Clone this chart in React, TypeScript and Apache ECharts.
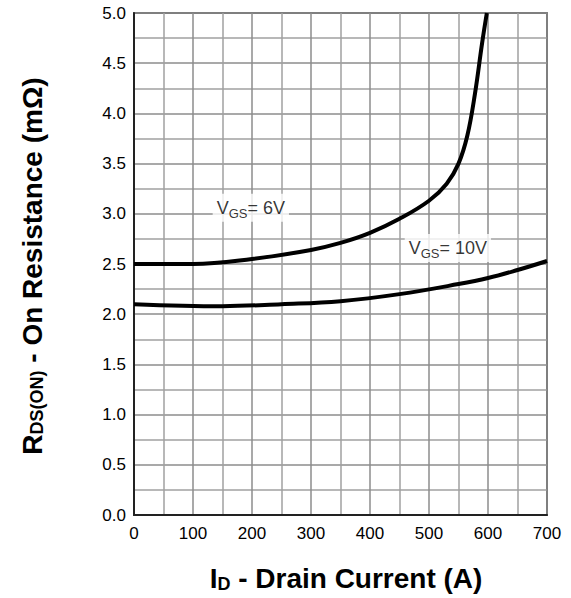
import React, { useEffect, useRef } from "react";
import * as echarts from "echarts";

const xTicks = [0, 100, 200, 300, 400, 500, 600, 700];
const yTicks = [0, 0.5, 1.0, 1.5, 2.0, 2.5, 3.0, 3.5, 4.0, 4.5, 5.0];

const currentVgs6 = [0, 100, 200, 300, 350, 400, 450, 500, 530, 550, 565, 578, 590, 598];
const rdsVgs6 = [2.5, 2.5, 2.55, 2.64, 2.71, 2.81, 2.95, 3.13, 3.3, 3.5, 3.78, 4.2, 4.7, 5.0];

const currentVgs10 = [0, 150, 250, 350, 450, 550, 600, 650, 700];
const rdsVgs10 = [2.1, 2.08, 2.1, 2.13, 2.2, 2.3, 2.36, 2.44, 2.53];

const labelVgs6 = { x: 198, y: 3.06, text: "{v|V}{s|GS}{v|= 6V}" };
const labelVgs10 = { x: 532, y: 2.66, text: "{v|V}{s|GS}{v|= 10V}" };

const FONT = "Liberation Sans, Arial, Helvetica, sans-serif";

export default function App() {
  const ref = useRef<HTMLDivElement>(null);
  useEffect(() => {
    if (!ref.current) return;
    const chart = echarts.init(ref.current, null, { renderer: "svg" });
    const pair = (xs: number[], ys: number[]) => xs.map((x, i) => [x, ys[i]]);
    const labelRich = {
      v: { fontSize: 18, color: "#000", fontFamily: FONT },
      s: { fontSize: 13, color: "#000", fontFamily: FONT, verticalAlign: "bottom", padding: [10, 0, 0, 0] },
    };
    const labelSeries = (l: { x: number; y: number; text: string }) => ({
      type: "scatter",
      data: [[l.x, l.y]],
      symbolSize: 0,
      silent: true,
      z: 5,
      label: {
        show: true,
        position: "inside",
        formatter: l.text,
        backgroundColor: "#fff",
        padding: [3, 4, 2, 4],
        rich: labelRich,
      },
    });
    chart.setOption({
      animation: false,
      backgroundColor: "#fff",
      grid: {
        left: 134,
        right: 24,
        top: 13,
        bottom: 83,
        show: true,
        borderColor: "#222",
        borderWidth: 1.5,
      },
      xAxis: {
        type: "value",
        min: 0,
        max: 700,
        interval: 100,
        axisLine: { show: true, lineStyle: { color: "#222", width: 2 } },
        axisTick: { show: false },
        axisLabel: {
          fontSize: 17,
          color: "#000",
          fontFamily: FONT,
          margin: 10,
          formatter: (v: number) => (xTicks.includes(v) ? String(v) : ""),
        },
        splitLine: { show: true, lineStyle: { color: "#8c8c8c", width: 1.5 } },
        minorTick: { show: false, splitNumber: 2 },
        minorSplitLine: { show: true, lineStyle: { color: "#a0a0a0", width: 1.5 } },
      },
      yAxis: {
        type: "value",
        min: 0,
        max: 5,
        interval: 0.5,
        axisLine: { show: true, lineStyle: { color: "#222", width: 2 } },
        axisTick: { show: false },
        axisLabel: {
          fontSize: 17,
          color: "#000",
          fontFamily: FONT,
          margin: 8,
          formatter: (v: number) => {
            const t = yTicks.find((y) => Math.abs(y - v) < 1e-6);
            return t === undefined ? "" : t.toFixed(1);
          },
        },
        splitLine: { show: true, lineStyle: { color: "#8c8c8c", width: 1.5 } },
        minorTick: { show: false, splitNumber: 2 },
        minorSplitLine: { show: true, lineStyle: { color: "#a0a0a0", width: 1.5 } },
      },
      graphic: [
        {
          type: "text",
          x: 346,
          y: 578,
          style: {
            text: "{b|I}{sb|D}{b| - Drain Current (A)}",
            align: "center",
            verticalAlign: "middle",
            rich: {
              b: { fontSize: 28, fontWeight: "bold", fontFamily: FONT, color: "#000" },
              sb: { fontSize: 18, fontWeight: "bold", fontFamily: FONT, color: "#000", verticalAlign: "bottom", padding: [12, 0, 0, 0] },
            },
          },
        },
        {
          type: "text",
          x: 32,
          y: 266,
          rotation: Math.PI / 2,
          style: {
            text: "{b|R}{sb|DS(ON)}{b| - On Resistance (mΩ)}",
            align: "center",
            verticalAlign: "middle",
            rich: {
              b: { fontSize: 28, fontWeight: "bold", fontFamily: FONT, color: "#000" },
              sb: { fontSize: 18, fontWeight: "bold", fontFamily: FONT, color: "#000", verticalAlign: "bottom", padding: [9, 0, 0, 0] },
            },
          },
        },
      ],
      series: [
        {
          type: "line",
          data: pair(currentVgs6, rdsVgs6),
          smooth: 0.4,
          showSymbol: false,
          symbol: "none",
          lineStyle: { color: "#000", width: 4 },
          z: 3,
        },
        {
          type: "line",
          data: pair(currentVgs10, rdsVgs10),
          smooth: 0.4,
          showSymbol: false,
          symbol: "none",
          lineStyle: { color: "#000", width: 4 },
          z: 3,
        },
        labelSeries(labelVgs6),
        labelSeries(labelVgs10),
      ],
    });
    return () => chart.dispose();
  }, []);
  return (
    <div
      ref={ref}
      style={{ position: "fixed", left: 0, top: 0, width: 571, height: 598, background: "#fff" }}
    />
  );
}
